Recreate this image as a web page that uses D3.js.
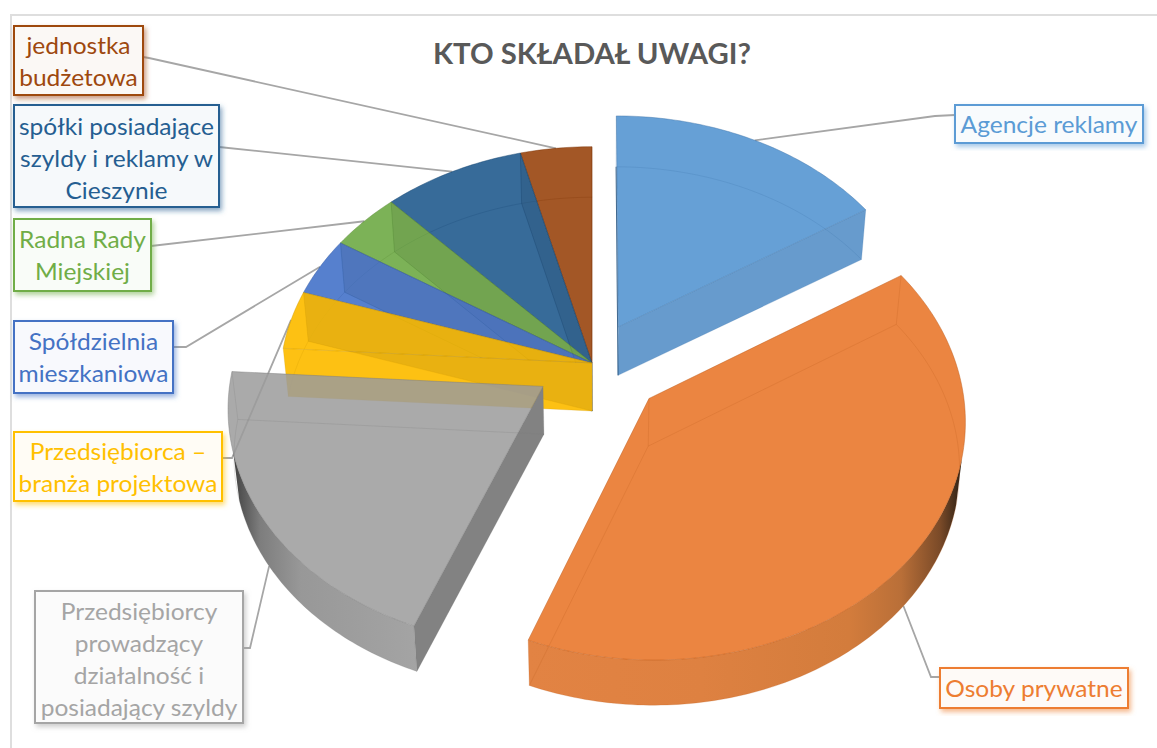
<!DOCTYPE html>
<html lang="pl">
<head>
<meta charset="utf-8">
<script src="https://cdn.jsdelivr.net/npm/d3@7"></script>
<style>
  html, body { margin: 0; padding: 0; background: #fff; overflow: hidden; }
  text { font-family: Lato, "Open Sans", sans-serif; }
</style>
</head>
<body>
<div id="chart"></div>
<script>
const chartTitle = 'KTO SKŁADAŁ UWAGI?'
const categories = [
  'Agencje reklamy',
  'Osoby prywatne',
  'Przedsiębiorcy prowadzący działalność i posiadający szyldy',
  'Przedsiębiorca – branża projektowa',
  'Spółdzielnia mieszkaniowa',
  'Radna Rady Miejskiej',
  'spółki posiadające szyldy i reklamy w Cieszynie',
  'jednostka budżetowa'
]
const values = [4, 10, 5, 1, 1, 1, 2, 1]
const explosion = [0.178, 0.235, 0.185, 0, 0, 0, 0, 0]

// office palette, label colour and the colour of the see-through top face
const labelColors = ['#5b9bd5', '#ed7d31', '#a5a5a5', '#ffc000', '#4472c4', '#70ad47', '#255e91', '#9e480e']
const topColors = ['#4b8fcf', '#e87020', '#9b9b9b', '#fdbc01', '#386ac5', '#65a439', '#145187', '#933900']
const topAlphas = [0.85, 0.85, 0.85, 0.93, 0.85, 0.85, 0.85, 0.85]

// label boxes: [x, y, width, height], text lines, text shift, leader elbow
const labelLayout = [
  { box: [955, 105, 188, 38], lines: ['Agencje reklamy'], dy: 1, elbow: [[955, 115], [935, 116]] },
  { box: [940, 668, 188, 40], lines: ['Osoby prywatne'], dy: 1, elbow: [[940, 677], [931, 677]] },
  { box: [35, 591, 208, 132], lines: ['Przedsiębiorcy', 'prowadzący', 'działalność i', 'posiadający szyldy'], dy: 3, elbow: [[243, 648], [250, 648]] },
  { box: [14, 432, 208, 69], lines: ['Przedsiębiorca –', 'branża projektowa'], dy: 1, elbow: [[222, 458], [232, 458]] },
  { box: [14, 321, 159, 72], lines: ['Spółdzielnia', 'mieszkaniowa'], dy: 1, elbow: [[173, 347], [186, 347]] },
  { box: [14, 219, 137, 72], lines: ['Radna Rady', 'Miejskiej'], dy: 1, elbow: [[151, 246]] },
  { box: [14, 105, 205, 102], lines: ['spółki posiadające', 'szyldy i reklamy w', 'Cieszynie'], dy: 3, elbow: [[219, 147]] },
  { box: [14, 26, 129, 69], lines: ['jednostka', 'budżetowa'], dy: 1, elbow: [[143, 57], [149, 58]] }
]

const width = 1157
const height = 748
const frontArc = [104, 254] // degrees of the rim that faces the viewer
const leaderArc = [108, 252]

const svg = d3.select('#chart').append('svg')
  .attr('width', width)
  .attr('height', height)

const defs = svg.append('defs')

// pie plane -> screen, with a little perspective
const k = 0.082
const sxScale = d3.scaleLinear().domain([-1, 1]).range([592 - 311, 592 + 311])
const syScale = d3.scaleLinear().domain([-1, 1]).range([363 - 234, 363 + 234])
function project (X, Y, bottom) {
  const w = 1 - k * Y
  let sx = sxScale(X / w)
  let sy = syScale(Y / w)
  if (bottom) {
    sx = 600 + (sx - 600) * 0.984
    sy += 48 - 2.5 * Y
  }
  return [sx, sy]
}

const rad = Math.PI / 180
const pie = d3.pie().sort(null).value(d => d)
const arcs = pie(values).map((a, i) => {
  const mid = (a.startAngle + a.endAngle) / 2
  return {
    i,
    a0: a.startAngle / rad,
    a1: a.endAngle / rad,
    mid: mid / rad,
    ox: explosion[i] * Math.sin(mid),
    oy: -explosion[i] * Math.cos(mid)
  }
})

function rimPoint (s, deg, bottom) {
  return project(s.ox + Math.sin(deg * rad), s.oy - Math.cos(deg * rad), bottom)
}
function apex (s, bottom) {
  return project(s.ox, s.oy, bottom)
}
function rim (s, from, to, bottom) {
  const n = Math.max(2, Math.ceil(Math.abs(to - from)))
  return d3.range(n + 1).map(j => rimPoint(s, from + (to - from) * j / n, bottom))
}
const line = d3.line()
const closed = pts => line(pts) + 'Z'
function sector (s, bottom) {
  return closed([apex(s, bottom), ...rim(s, s.a0, s.a1, bottom)])
}
function radialWall (s, deg) {
  return closed([apex(s, false), rimPoint(s, deg, false), rimPoint(s, deg, true), apex(s, true)])
}

// shading of the curved front walls
function wallGradient (id, x0, x1, stops) {
  const g = defs.append('linearGradient')
    .attr('id', id)
    .attr('gradientUnits', 'userSpaceOnUse')
    .attr('x1', x0).attr('x2', x1).attr('y1', 0).attr('y2', 0)
  stops.forEach(d => g.append('stop').attr('offset', d[0]).attr('stop-color', d[1]))
}
wallGradient('wall1', 962, 527, [[0, '#2c2015'], [0.05, '#7a4a28'], [0.14, '#b96f38'], [0.26, '#d37c3c'], [0.6, '#de8141'], [1, '#e28343']])
wallGradient('wall2', 232, 418, [[0, '#3f3f3f'], [0.15, '#7d7d7d'], [0.37, '#989898'], [1, '#a4a4a4']])

// drop shadow of the label boxes
labelColors.forEach((c, i) => {
  defs.append('filter')
    .attr('id', `shadow${i}`)
    .attr('x', '-10%').attr('y', '-15%').attr('width', '125%').attr('height', '135%')
    .append('feDropShadow')
    .attr('dx', 2).attr('dy', 3).attr('stdDeviation', 2.5)
    .attr('flood-color', c).attr('flood-opacity', 0.55)
})

// chart frame, cut by the screenshot on two sides
svg.append('path')
  .attr('d', line([[11, height], [11, 15], [width, 15]]))
  .attr('fill', 'none')
  .attr('stroke', '#dedede')
  .attr('stroke-width', 2)

const title = svg.append('text')
  .attr('x', 592)
  .attr('y', 64)
  .attr('text-anchor', 'middle')
  .attr('font-size', 29)
  .attr('font-weight', 700)
  .attr('fill', '#595959')
  .text(chartTitle)
title.attr('textLength', 318).attr('lengthAdjust', 'spacingAndGlyphs')

// leader lines sit behind the slices
const leaders = svg.append('g')
  .attr('fill', 'none')
  .attr('stroke', '#a6a6a6')
  .attr('stroke-width', 1.8)
arcs.forEach(s => {
  const inFront = s.mid > leaderArc[0] && s.mid < leaderArc[1]
  const end = rimPoint(s, s.mid, inFront)
  leaders.append('path').attr('d', line([...labelLayout[s.i].elbow, end]))
})

// back to front
const drawOrder = [7, 6, 5, 4, 3, 0, 1, 2]
const slices = svg.append('g')
drawOrder.forEach(i => {
  const s = arcs[i]
  const g = slices.append('g').attr('class', 'slice')
  const color = topColors[i]
  const edge = d3.rgb(color).darker(0.6)

  if (i === 3) {
    g.append('path').attr('d', radialWall(s, s.a0))
      .attr('fill', '#fdc113')
  }

  // curved wall towards the viewer
  const from = Math.max(s.a0, frontArc[0])
  const to = Math.min(s.a1, frontArc[1])
  if (to > from) {
    g.append('path')
      .attr('d', closed([...rim(s, from, to, false), ...rim(s, to, from, true)]))
      .attr('fill', `url(#wall${i})`)
  }

  // straight wall of an exploded slice, when it faces the viewer
  if (explosion[i] > 0 && Math.sin(s.a1 * rad) > 0.01) {
    g.append('path').attr('d', radialWall(s, s.a1))
      .attr('fill', '#679bcd')
  }
  if (explosion[i] > 0 && Math.sin(s.a0 * rad) < -0.01) {
    g.append('path').attr('d', radialWall(s, s.a0))
      .attr('fill', '#828282')
  }

  g.append('path').attr('d', sector(s, false))
    .attr('fill', color)
    .attr('fill-opacity', topAlphas[i])
    .attr('stroke', edge)
    .attr('stroke-opacity', 0.55)
    .attr('stroke-width', 0.8)

  // the inner wall of a closed slice darkens what lies over it
  if (explosion[i] === 0 && s.a1 < 359.9) {
    g.append('path').attr('d', radialWall(s, s.a1))
      .attr('fill', '#000')
      .attr('fill-opacity', 0.08)
  }

  // far edges showing through the top face
  const faint = g.append('g')
    .attr('fill', 'none')
    .attr('stroke', edge)
    .attr('stroke-opacity', 0.28)
    .attr('stroke-width', 0.8)
  faint.append('path').attr('d', sector(s, true))
  faint.append('path').attr('d', line([apex(s, false), apex(s, true)]))
  faint.append('path').attr('d', line([rimPoint(s, s.a0, false), rimPoint(s, s.a0, true)]))
  faint.append('path').attr('d', line([rimPoint(s, s.a1, false), rimPoint(s, s.a1, true)]))

  // the first slice's left wall is seen edge-on
  if (i === 0) {
    g.append('path')
      .attr('d', line([rimPoint(s, s.a0, true), apex(s, true)]))
      .attr('stroke', '#1f4e79')
      .attr('stroke-opacity', 0.8)
      .attr('stroke-width', 1)
  }
})

// labels
const lineStep = 32
const labels = svg.append('g')
categories.forEach((name, i) => {
  const l = labelLayout[i]
  const c = labelColors[i]
  const g = labels.append('g').attr('class', 'label').attr('data-category', name)
  g.append('rect')
    .attr('x', l.box[0]).attr('y', l.box[1])
    .attr('width', l.box[2]).attr('height', l.box[3])
    .attr('fill', d3.interpolateRgb(c, '#fff')(0.96))
    .attr('stroke', c)
    .attr('stroke-width', 2)
    .attr('filter', `url(#shadow${i})`)
  const midY = l.box[1] + l.box[3] / 2
  l.lines.forEach((t, j) => {
    const txt = g.append('text')
      .attr('x', l.box[0] + l.box[2] / 2)
      .attr('y', midY + (j - (l.lines.length - 1) / 2) * lineStep + 8 + l.dy)
      .attr('text-anchor', 'middle')
      .attr('font-size', 23)
      .attr('fill', c)
      .text(t)
    // the original text is set a bit wider than the font
    txt.attr('textLength', txt.node().getComputedTextLength() * 1.065)
      .attr('lengthAdjust', 'spacingAndGlyphs')
  })
})
</script>
</body>
</html>
